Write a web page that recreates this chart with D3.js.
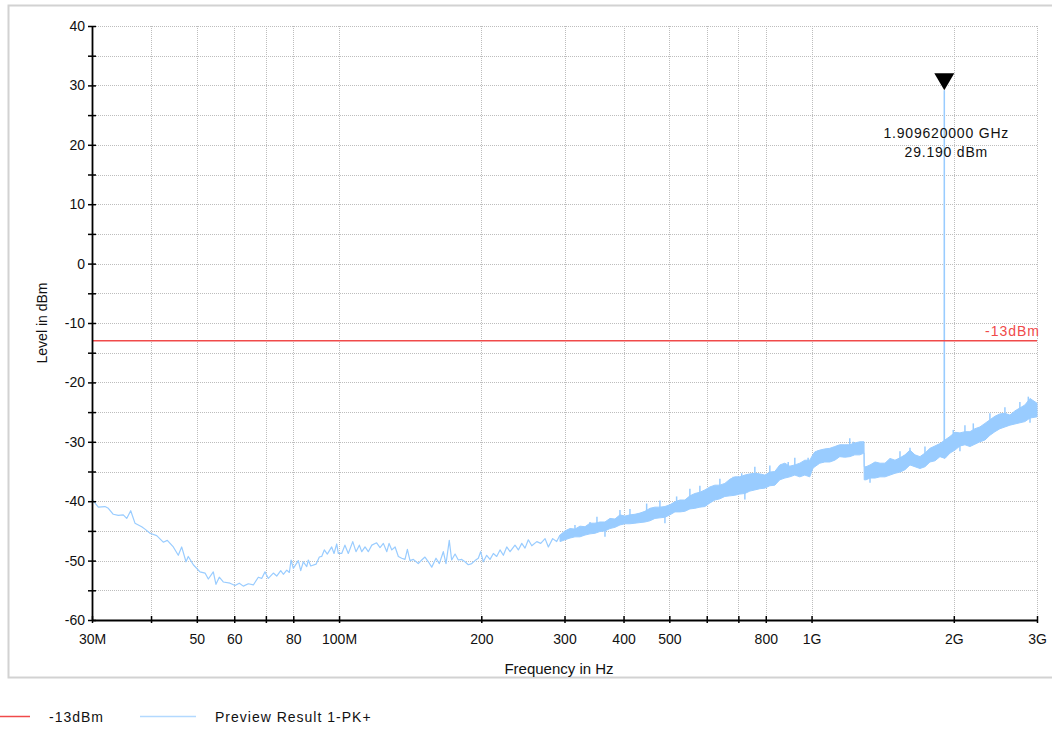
<!DOCTYPE html>
<html>
<head>
<meta charset="utf-8">
<script src="https://cdn.jsdelivr.net/npm/d3@7"></script>
<style>
  body { margin: 0; background: #fff; }
  svg { display: block; font-family: "Liberation Sans", Arial, sans-serif; }
</style>
</head>
<body>
<svg id="chart" width="1052" height="731"></svg>
<script>
// ---------------- data ----------------
// frequency axis (MHz) and its labels
const xTickValues = [30, 40, 50, 60, 70, 80, 100, 200, 300, 400, 500, 600, 700, 800, 1000, 2000, 3000];
const xTickLabels = ["30M", "", "50", "60", "", "80", "100M", "200", "300", "400", "500", "", "", "800", "1G", "2G", "3G"];
// level axis (dBm) and its labels
const yTickValues = [-60, -55, -50, -45, -40, -35, -30, -25, -20, -15, -10, -5, 0, 5, 10, 15, 20, 25, 30, 35, 40];
const yTickLabels = ["-60", "", "-50", "", "-40", "", "-30", "", "-20", "", "-10", "", "0", "", "10", "", "20", "", "30", "", "40"];

// limit line
const limitLevel = -13;
const limitLabel = "-13dBm";
const traceName = "Preview Result 1-PK+";

// marker on the carrier
const markerFreq = 1909.62;
const markerLevel = 29.19;
const markerLabels = ["1.909620000 GHz", "29.190 dBm"];

// low-frequency part of the trace: single line (MHz, dBm)
const traceFreq = [
  30.0, 30.94, 31.96, 32.48, 33.28, 34.10, 34.94, 35.53, 36.23, 36.99,
  38.22, 38.84, 39.80, 41.12, 42.46, 43.30, 44.59, 45.68, 46.44, 47.43,
  47.96, 49.15, 50.78, 52.04, 52.88, 54.18, 54.89, 55.78, 56.88, 58.78,
  60.22, 61.50, 62.71, 64.26, 65.85, 67.47, 68.59, 69.70, 70.84, 72.59,
  73.80, 75.26, 76.22, 77.50, 78.48, 79.14, 80.02, 81.99, 82.96, 84.02,
  85.42, 86.09, 87.11, 89.39, 90.84, 91.89, 93.06, 94.43, 96.47, 97.57,
  98.86, 99.63, 101.3, 102.9, 104.6, 106.9, 108.6, 110.4, 111.7, 113.5,
  115.3, 117.3, 120.1, 122.1, 124.1, 126.2, 127.6, 129.3, 131.4, 133.5,
  135.7, 137.9, 139.5, 141.3, 143.6, 147.1, 149.6, 152.0, 154.5, 157.1,
  160.4, 163.0, 166.2, 168.4, 171.1, 173.1, 176.0, 178.8, 181.8, 184.7,
  187.7, 190.9, 194.0, 197.1, 199.4, 202.0, 205.3, 208.7, 212.1, 215.6,
  219.1, 222.7, 226.4, 230.1, 235.7, 239.6, 243.6, 247.5, 251.5, 255.8,
  262.1, 267.2, 272.9, 277.3, 283.2, 288.8, 293.5
];
const traceLevel = [
  -39.7, -41.0, -40.9, -41.2, -42.2, -42.4, -42.3, -42.9, -41.6, -43.7,
  -44.3, -44.7, -45.4, -45.8, -46.9, -46.6, -47.7, -49.1, -47.7, -50.2,
  -49.3, -50.7, -51.9, -52.1, -53.1, -51.9, -54.0, -52.8, -53.6, -53.8,
  -54.2, -53.8, -54.3, -53.9, -54.1, -52.8, -53.0, -51.9, -53.0, -52.1,
  -52.6, -51.7, -52.3, -51.6, -52.0, -49.9, -51.3, -50.0, -51.7, -50.2,
  -51.0, -49.9, -50.9, -50.6, -49.4, -49.3, -48.2, -48.9, -47.7, -48.8,
  -47.2, -48.8, -48.8, -47.4, -48.8, -46.8, -48.5, -47.4, -48.5, -47.7,
  -48.5, -47.4, -47.0, -47.8, -47.1, -48.5, -47.1, -48.2, -47.7, -49.3,
  -49.6, -49.8, -48.1, -50.0, -49.8, -50.5, -49.9, -49.4, -50.2, -51.1,
  -49.6, -50.5, -48.5, -50.5, -46.6, -49.9, -48.9, -49.9, -49.8, -50.2,
  -50.7, -50.5, -50.0, -49.6, -48.5, -50.2, -49.1, -49.8, -48.8, -49.3,
  -48.2, -49.1, -47.7, -48.5, -47.4, -48.2, -47.1, -47.9, -46.5, -47.5,
  -46.8, -47.1, -46.3, -47.7, -46.3, -46.8, -45.7
];

// high-frequency part: dense sweep shown as a min/max band (MHz, dBm)
const bandFreq = [
  293.5, 300.7, 308.2, 315.7, 323.5, 331.5, 339.7, 348.0, 356.6, 365.4,
  374.4, 383.6, 393.1, 402.8, 412.7, 422.9, 433.3, 444.0, 454.9, 466.1,
  477.6, 489.4, 501.5, 513.8, 526.5, 539.4, 552.7, 566.4, 580.3, 594.6,
  609.3, 624.3, 639.7, 655.4, 671.6, 688.1, 705.1, 722.5, 740.3, 758.5,
  777.2, 796.4, 816.0, 836.1, 856.7, 877.8, 899.4, 921.6, 944.3, 967.6,
  991.4, 1006.0, 1015.9, 1040.9, 1066.5, 1092.8, 1119.8, 1147.4, 1175.6, 1204.6,
  1234.3, 1264.7, 1291.3, 1292.5, 1304.0, 1329.6, 1362.4, 1396.0, 1430.4, 1465.6,
  1501.7, 1538.7, 1576.7, 1615.5, 1655.3, 1696.1, 1737.9, 1780.7, 1824.6, 1869.6,
  1915.7, 1962.9, 2011.3, 2060.8, 2111.6, 2163.7, 2217.0, 2271.7, 2327.6, 2385.0,
  2443.8, 2504.0, 2565.8, 2629.0, 2693.8, 2760.1, 2828.2, 2899.6, 3000.0
];
const bandHigh = [
  -45.7, -45.0, -44.6, -44.7, -44.2, -44.3, -43.7, -43.7, -43.5, -43.5,
  -42.9, -43.0, -42.3, -42.5, -42.3, -42.2, -42.0, -41.7, -41.2, -41.0,
  -41.0, -40.9, -40.6, -40.1, -39.8, -39.8, -39.1, -38.7, -38.5, -38.1,
  -37.6, -37.3, -37.3, -37.0, -36.3, -35.9, -35.9, -35.6, -35.4, -35.3,
  -35.4, -35.6, -35.1, -35.0, -33.9, -33.6, -34.1, -33.9, -33.6, -33.1,
  -33.1, -32.2, -31.7, -31.4, -31.2, -31.1, -30.8, -30.5, -30.5, -30.5,
  -30.2, -30.0, -30.0, -34.2, -34.2, -33.9, -33.4, -33.6, -33.6, -32.8,
  -33.1, -32.7, -32.2, -31.4, -32.2, -32.5, -31.9, -31.1, -30.7, -30.3,
  -29.7, -29.1, -28.4, -28.5, -28.3, -28.3, -27.8, -27.5, -26.9, -26.3,
  -25.7, -25.3, -25.2, -25.5, -24.8, -24.3, -23.8, -22.7, -23.5
];
const bandLow = [
  -46.8, -46.5, -46.2, -46.0, -46.0, -45.7, -45.5, -45.4, -45.1, -45.0,
  -44.6, -44.4, -44.0, -43.8, -43.8, -43.7, -43.6, -43.5, -43.3, -42.9,
  -42.8, -42.7, -42.3, -41.8, -41.8, -41.7, -41.3, -41.2, -41.0, -40.9,
  -40.3, -39.8, -39.6, -39.2, -39.1, -39.0, -38.8, -38.7, -38.3, -38.1,
  -37.9, -37.8, -37.4, -37.3, -36.4, -36.1, -35.9, -35.6, -35.9, -35.6,
  -35.9, -34.5, -34.2, -33.6, -33.4, -33.4, -33.1, -32.5, -32.6, -32.5,
  -32.2, -32.2, -31.9, -36.4, -36.4, -36.1, -36.1, -35.9, -35.9, -35.6,
  -35.3, -35.1, -34.7, -33.9, -34.2, -34.5, -34.2, -33.4, -33.2, -32.5,
  -32.8, -31.9, -31.4, -30.7, -30.5, -30.8, -30.4, -30.0, -29.7, -28.9,
  -28.3, -27.8, -27.5, -27.2, -27.0, -26.8, -26.6, -26.0, -25.8
];

// isolated peaks sticking out above the band (MHz, dBm)
const spikeFreq = [
  315.7, 339.7, 351.4, 393.1, 412.7, 447.7, 477.6, 518.1, 552.7, 580.3,
  614.3, 639.7, 682.5, 711.4, 758.5, 816.0, 892.5, 921.6, 983.3, 1033.5,
  1204.6, 1225.1, 1538.7, 1615.5, 1737.9, 1994.7, 2111.6, 2199.4, 2385.0, 2565.8,
  2760.1, 2875.6
];
const spikeLevel = [
  -44.0, -43.5, -42.6, -41.5, -41.3, -40.4, -39.9, -39.2, -37.9, -37.4,
  -37.8, -36.2, -35.9, -35.3, -34.2, -34.0, -33.4, -32.7, -32.7, -31.4,
  -29.4, -30.0, -31.6, -31.0, -30.8, -28.0, -27.2, -26.9, -25.2, -24.2,
  -23.3, -22.4
];
// isolated dips below the band (MHz, dBm)
const dipFreq = [365.4, 489.4, 722.5, 1329.6, 2060.8, 2899.6];
const dipLevel = [-46.0, -43.7, -39.7, -36.9, -31.6, -26.8];

// carrier line up to the marker (MHz, dBm)
const peakFreq = [1908.9, 1909.62, 1910.3];
const peakLevel = [-31.6, 29.19, -31.2];

// ---------------- layout ----------------
const svg = d3.select("#chart");
const plot = { left: 92, right: 1037, top: 26, bottom: 620 };

const x = d3.scaleLog().domain([30, 3000]).range([plot.left, plot.right]);
const y = d3.scaleLinear().domain([-60, 40]).range([plot.bottom, plot.top]);

const traceColor = "#99ccff";
const limitColor = "#f04a4a";

// outer frame
svg.append("rect")
  .attr("x", 8.5).attr("y", 5.5)
  .attr("width", 1060).attr("height", 672)
  .attr("fill", "none").attr("stroke", "#d2d2d2").attr("stroke-width", 2);

// grid
const grid = svg.append("g").attr("stroke", "#bdbdbd").attr("stroke-width", 1)
  .attr("stroke-dasharray", "1,1").attr("shape-rendering", "crispEdges");
grid.selectAll("line.h").data(yTickValues.filter(v => v > -60)).join("line")
  .attr("class", "h")
  .attr("x1", plot.left).attr("x2", plot.right)
  .attr("y1", d => Math.round(y(d)) + 0.5).attr("y2", d => Math.round(y(d)) + 0.5);
grid.selectAll("line.v").data(xTickValues.filter(v => v > 30)).join("line")
  .attr("class", "v")
  .attr("y1", plot.top).attr("y2", plot.bottom)
  .attr("x1", d => Math.round(x(d)) + 0.5).attr("x2", d => Math.round(x(d)) + 0.5);

// trace: band part
const bandData = bandFreq.map((f, i) => ({ f, lo: bandLow[i], hi: bandHigh[i] }));
svg.append("path")
  .datum(bandData)
  .attr("d", d3.area().x(d => x(d.f)).y0(d => y(d.lo)).y1(d => y(d.hi)))
  .attr("fill", traceColor).attr("stroke", traceColor).attr("stroke-width", 1);

// band edge at a given frequency (linear in log-frequency)
function bandEdgeAt(f, key) {
  const i = d3.bisector(d => d.f).left(bandData, f);
  const a = bandData[Math.max(0, i - 1)], b = bandData[Math.min(bandData.length - 1, i)];
  if (a === b) return a[key];
  const t = (Math.log(f) - Math.log(a.f)) / (Math.log(b.f) - Math.log(a.f));
  return a[key] + (b[key] - a[key]) * t;
}
const spikes = svg.append("g").attr("stroke", traceColor).attr("stroke-width", 1.5);
spikes.selectAll("line.up").data(spikeFreq).join("line")
  .attr("class", "up")
  .attr("x1", d => x(d)).attr("x2", d => x(d))
  .attr("y1", (d, i) => y(spikeLevel[i])).attr("y2", d => y(bandEdgeAt(d, "hi")) + 1);
spikes.selectAll("line.down").data(dipFreq).join("line")
  .attr("class", "down")
  .attr("x1", d => x(d)).attr("x2", d => x(d))
  .attr("y1", (d, i) => y(dipLevel[i])).attr("y2", d => y(bandEdgeAt(d, "lo")) - 1);

// trace: single-line part
svg.append("path")
  .datum(traceFreq.map((f, i) => [f, traceLevel[i]]))
  .attr("d", d3.line().x(d => x(d[0])).y(d => y(d[1])))
  .attr("fill", "none").attr("stroke", traceColor).attr("stroke-width", 1.2)
  .attr("stroke-linejoin", "round");

// carrier
svg.append("path")
  .datum(peakFreq.map((f, i) => [f, peakLevel[i]]))
  .attr("d", d3.line().x(d => x(d[0])).y(d => y(d[1])))
  .attr("fill", "none").attr("stroke", traceColor).attr("stroke-width", 1.5);

// limit line
svg.append("line")
  .attr("x1", plot.left).attr("x2", plot.right)
  .attr("y1", y(limitLevel)).attr("y2", y(limitLevel))
  .attr("stroke", limitColor).attr("stroke-width", 1.6);
svg.append("text")
  .attr("x", plot.right + 3).attr("y", y(limitLevel) - 5)
  .attr("text-anchor", "end").attr("fill", limitColor)
  .attr("font-size", 14).attr("letter-spacing", 1)
  .text(limitLabel);

// marker
const mx = x(markerFreq), my = y(markerLevel);
svg.append("path")
  .attr("d", `M${mx},${my} L${mx - 10},${my - 17} L${mx + 10},${my - 17} Z`)
  .attr("fill", "#000");
svg.append("g").attr("font-size", 14).attr("fill", "#111").attr("text-anchor", "middle")
  .attr("letter-spacing", 0.8)
  .selectAll("text").data(markerLabels).join("text")
  .attr("x", mx + 2).attr("y", (d, i) => my + 48 + i * 19)
  .text(d => d);

// axes
const yAxis = svg.append("g")
  .attr("transform", `translate(${plot.left},0)`)
  .call(d3.axisLeft(y).tickValues(yTickValues).tickFormat((d, i) => yTickLabels[i])
    .tickSize(4).tickSizeOuter(0).tickPadding(3));
yAxis.selectAll(".tick line").attr("x1", 4).attr("stroke-width", 1.5);
yAxis.select(".domain").attr("stroke-width", 1.8);
yAxis.selectAll("text").attr("font-size", 14).attr("fill", "#111").attr("font-family", "Liberation Sans, Arial, sans-serif");

const xAxis = svg.append("g")
  .attr("transform", `translate(0,${plot.bottom})`)
  .call(d3.axisBottom(x).tickValues(xTickValues).tickFormat((d, i) => xTickLabels[i])
    .tickSize(3).tickSizeOuter(0).tickPadding(11));
xAxis.selectAll(".tick line").attr("y1", -4).attr("stroke-width", 1.5);
xAxis.select(".domain").attr("stroke-width", 1.8);
xAxis.selectAll("text").attr("font-size", 14).attr("fill", "#111").attr("font-family", "Liberation Sans, Arial, sans-serif");

// axis titles
svg.append("text")
  .attr("x", 559).attr("y", 674)
  .attr("text-anchor", "middle").attr("font-size", 15).attr("fill", "#111")
  .text("Frequency in Hz");
svg.append("text")
  .attr("transform", `translate(47,${(plot.top + plot.bottom) / 2}) rotate(-90)`)
  .attr("text-anchor", "middle").attr("font-size", 14).attr("fill", "#111")
  .text("Level in dBm");

// legend
const legend = svg.append("g").attr("font-size", 14).attr("fill", "#111").attr("letter-spacing", 1);
legend.append("line").attr("x1", 0).attr("x2", 30).attr("y1", 716.5).attr("y2", 716.5)
  .attr("stroke", limitColor).attr("stroke-width", 1.5);
legend.append("text").attr("x", 49).attr("y", 722).text(limitLabel);
legend.append("line").attr("x1", 140).attr("x2", 196).attr("y1", 716.5).attr("y2", 716.5)
  .attr("stroke", "#b3d9ff").attr("stroke-width", 1.5);
legend.append("text").attr("x", 215).attr("y", 722).text(traceName);
</script>
</body>
</html>
